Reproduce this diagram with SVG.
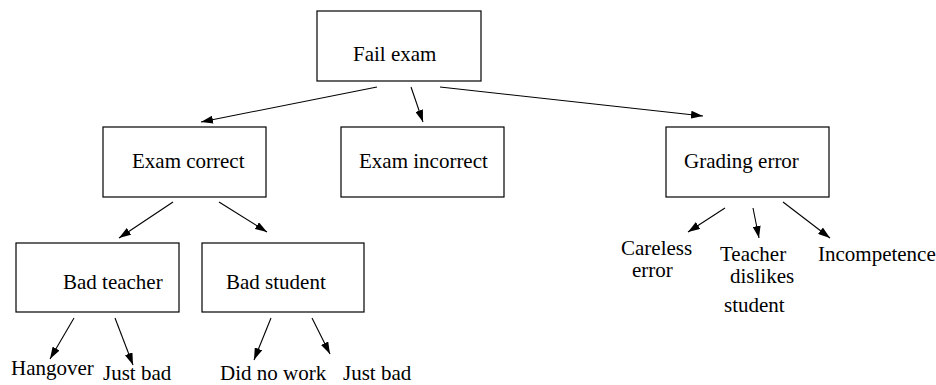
<svg xmlns="http://www.w3.org/2000/svg" width="936" height="385" viewBox="0 0 936 385">
<defs>
<marker id="ah" markerUnits="userSpaceOnUse" markerWidth="12" markerHeight="8" refX="12" refY="4" orient="auto">
<path d="M0,0 L12,4 L0,8 Z" fill="#000"/>
</marker>
<style>
.box{fill:#fff;stroke:#000;stroke-width:1.2}
.t{font-family:"Liberation Serif","Times New Roman",serif;font-size:21px;fill:#000}
.c{stroke:#000;stroke-width:1.1;fill:none;marker-end:url(#ah)}
</style>
</defs>
<rect width="936" height="385" fill="#fff"/>
<g id="fail-exam"><rect class="box" x="317" y="11" width="164" height="70"/><text class="t" x="353" y="61">Fail exam</text></g>
<g id="exam-correct"><rect class="box" x="103" y="127" width="163" height="70"/><text class="t" x="132" y="168">Exam correct</text></g>
<g id="exam-incorrect"><rect class="box" x="341" y="127" width="163" height="70"/><text class="t" x="359" y="168">Exam incorrect</text></g>
<g id="grading-error"><rect class="box" x="666" y="127" width="163" height="70"/><text class="t" x="684" y="168">Grading error</text></g>
<g id="bad-teacher"><rect class="box" x="16" y="243" width="163" height="69"/><text class="t" x="63" y="289">Bad teacher</text></g>
<g id="bad-student"><rect class="box" x="202" y="243" width="162" height="69"/><text class="t" x="226" y="289">Bad student</text></g>
<g id="hangover"><text class="t" x="11" y="375">Hangover</text></g>
<g id="just-bad-1"><text class="t" x="103" y="380">Just bad</text></g>
<g id="did-no-work"><text class="t" x="220" y="380">Did no work</text></g>
<g id="just-bad-2"><text class="t" x="343" y="380">Just bad</text></g>
<g id="careless-error"><text class="t" x="621" y="255">Careless</text><text class="t" x="632" y="277">error</text></g>
<g id="teacher-dislikes"><text class="t" x="720" y="261">Teacher</text><text class="t" x="730" y="283">dislikes</text><text class="t" x="724" y="312">student</text></g>
<g id="incompetence"><text class="t" x="818" y="261">Incompetence</text></g>
<g id="connectors">
<line class="c" x1="377" y1="87" x2="201" y2="122"/>
<line class="c" x1="411" y1="87" x2="423" y2="122"/>
<line class="c" x1="440" y1="87" x2="703" y2="116"/>
<line class="c" x1="173" y1="202" x2="119" y2="238"/>
<line class="c" x1="219" y1="202" x2="267" y2="232"/>
<line class="c" x1="74" y1="318" x2="50" y2="359"/>
<line class="c" x1="115" y1="318" x2="133" y2="365"/>
<line class="c" x1="271" y1="318" x2="254" y2="360"/>
<line class="c" x1="312" y1="318" x2="330" y2="354"/>
<line class="c" x1="725" y1="208" x2="688" y2="232"/>
<line class="c" x1="753" y1="208" x2="759" y2="238"/>
<line class="c" x1="783" y1="202" x2="830" y2="238"/>
</g>
</svg>
